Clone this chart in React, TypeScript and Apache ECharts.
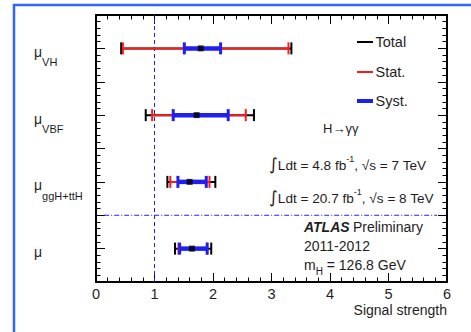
import React, { useEffect, useRef } from 'react';
import * as echarts from 'echarts';

// rows from bottom to top
const rowSubs = ['', 'ggH+ttH', 'VBF', 'VH'];
const rowPos = [0.5, 1.5, 2.5, 3.5];
const central = [1.64, 1.6, 1.72, 1.79];
const totalLow = [1.35, 1.22, 0.85, 0.43];
const totalHigh = [1.97, 2.04, 2.7, 3.34];
const statLow = [1.41, 1.27, 0.96, 0.46];
const statHigh = [1.9, 1.94, 2.56, 3.29];
const systLow = [1.43, 1.4, 1.32, 1.51];
const systHigh = [1.9, 1.885, 2.26, 2.13];
const xRange = [0, 6];
const yRange = [0, 4];
const smReference = 1;
const separatorY = 1;
const separatorExtent = [0.14, 5.83];
const legendNames = ['Total', 'Stat.', 'Syst.'];

const FONT = 'Liberation Sans, Arial, Helvetica, sans-serif';
const TXT = '#1e1e1e';
const RED = '#ff1a1a';
const BLUE = '#1f1ff0';
const BLACK = '#000000';

function barRenderer(color: string, lw: number, capW: number, capH: number) {
  return (params: any, api: any) => {
    const y = api.value(0);
    const lo = api.value(1);
    const hi = api.value(2);
    const a = api.coord([lo, y]);
    const b = api.coord([hi, y]);
    return {
      type: 'group',
      children: [
        { type: 'line', shape: { x1: a[0], y1: a[1], x2: b[0], y2: b[1] }, style: { stroke: color, lineWidth: lw } },
        { type: 'line', shape: { x1: a[0], y1: a[1] - capH / 2, x2: a[0], y2: a[1] + capH / 2 }, style: { stroke: color, lineWidth: capW } },
        { type: 'line', shape: { x1: b[0], y1: b[1] - capH / 2, x2: b[0], y2: b[1] + capH / 2 }, style: { stroke: color, lineWidth: capW } },
      ],
    };
  };
}

const lumiRich = {
  i: { fontFamily: 'DejaVu Sans, sans-serif', fontSize: 17, fill: TXT, lineHeight: 18, verticalAlign: 'bottom' },
  t: { fontFamily: FONT, fontSize: 13.6, fill: TXT, lineHeight: 16, verticalAlign: 'bottom' },
  u: { fontFamily: FONT, fontSize: 9, fill: TXT, lineHeight: 12, verticalAlign: 'top' },
};

export default function App() {
  const ref = useRef<HTMLDivElement>(null);
  useEffect(() => {
    if (!ref.current) return;
    const chart = echarts.init(ref.current, null, { renderer: 'svg' });
    const mk = (lo: number[], hi: number[]) => rowPos.map((y, i) => [y, lo[i], hi[i]]);
    const axisCommon = {
      type: 'value' as const,
      axisLine: { show: true, onZero: false, lineStyle: { color: BLACK, width: 2 } },
      axisTick: { show: true, inside: true, length: 9, lineStyle: { color: BLACK, width: 1 } },
      minorTick: { show: true, splitNumber: 5, length: 4.5, lineStyle: { color: BLACK, width: 1 } },
      splitLine: { show: false },
    };
    const option: any = {
      animation: false,
      backgroundColor: '#ffffff',
      grid: { left: 96, right: 24, top: 15, bottom: 50 },
      xAxis: [
        {
          ...axisCommon,
          min: xRange[0],
          max: xRange[1],
          interval: 1,
          position: 'bottom',
          name: 'Signal strength',
          nameLocation: 'end',
          nameGap: 0,
          nameTextStyle: { fontFamily: FONT, fontSize: 14, color: TXT, align: 'right', verticalAlign: 'top', padding: [21, 0, 0, 0] },
          axisLabel: { show: true, fontFamily: FONT, fontSize: 14.5, color: TXT, margin: 4 },
        },
        {
          ...axisCommon,
          min: xRange[0],
          max: xRange[1],
          interval: 1,
          position: 'top',
          axisLabel: { show: false },
        },
      ],
      yAxis: [
        {
          ...axisCommon,
          min: yRange[0],
          max: yRange[1],
          interval: 0.5,
          position: 'left',
          axisLabel: {
            show: true,
            align: 'left',
            margin: 62,
            padding: [9, 0, 0, 0],
            formatter: (v: number) => {
              const i = rowPos.indexOf(v);
              if (i < 0) return '';
              return `{m|μ}{s|${rowSubs[i] || ' '}}`;
            },
            rich: {
              m: { fontFamily: FONT, fontSize: 14, color: TXT, lineHeight: 16, verticalAlign: 'top' },
              s: { fontFamily: FONT, fontSize: 11, color: TXT, lineHeight: 12, verticalAlign: 'top', padding: [12, 0, 0, 0] },
            },
          },
        },
        {
          ...axisCommon,
          min: yRange[0],
          max: yRange[1],
          interval: 0.5,
          position: 'right',
          axisLabel: { show: false },
        },
      ],
      series: [
        {
          type: 'line',
          data: [[smReference, yRange[0]], [smReference, yRange[1]]],
          symbol: 'none',
          lineStyle: { color: BLUE, width: 1, type: [4, 3] },
          z: 1,
          silent: true,
        },
        {
          type: 'line',
          data: [[separatorExtent[0], separatorY], [separatorExtent[1], separatorY]],
          symbol: 'none',
          lineStyle: { color: BLUE, width: 1, type: [5, 2, 1, 2] },
          z: 1,
          silent: true,
        },
        {
          name: legendNames[0],
          type: 'custom',
          renderItem: barRenderer(BLACK, 2, 2, 12),
          encode: { x: [1, 2], y: 0 },
          data: mk(totalLow, totalHigh),
          z: 2,
        },
        {
          name: legendNames[1],
          type: 'custom',
          renderItem: barRenderer(RED, 2, 2, 12),
          encode: { x: [1, 2], y: 0 },
          data: mk(statLow, statHigh),
          z: 3,
        },
        {
          name: legendNames[2],
          type: 'custom',
          renderItem: barRenderer(BLUE, 4.5, 3, 12),
          encode: { x: [1, 2], y: 0 },
          data: mk(systLow, systHigh),
          z: 4,
        },
        {
          type: 'scatter',
          symbol: 'rect',
          symbolSize: 6,
          itemStyle: { color: BLACK },
          data: rowPos.map((y, i) => [central[i], y]),
          z: 5,
        },
      ],
      graphic: [
        { type: 'rect', shape: { x: 14, y: 5, width: 480, height: 360 }, style: { fill: 'none', stroke: '#2f66ff', lineWidth: 2.5 }, z: 100 },
        { type: 'line', shape: { x1: 357, y1: 42, x2: 373, y2: 42 }, style: { stroke: BLACK, lineWidth: 2 } },
        { type: 'text', x: 375.5, y: 42, style: { text: legendNames[0], font: `14.5px ${FONT}`, fill: TXT, verticalAlign: 'middle' } },
        { type: 'line', shape: { x1: 357, y1: 72, x2: 373, y2: 72 }, style: { stroke: RED, lineWidth: 2 } },
        { type: 'text', x: 375.5, y: 72, style: { text: legendNames[1], font: `14.5px ${FONT}`, fill: TXT, verticalAlign: 'middle' } },
        { type: 'line', shape: { x1: 357, y1: 101, x2: 373, y2: 101 }, style: { stroke: BLUE, lineWidth: 4 } },
        { type: 'text', x: 375.5, y: 101, style: { text: legendNames[2], font: `14.5px ${FONT}`, fill: TXT, verticalAlign: 'middle' } },
        { type: 'text', x: 323, y: 128, style: { text: 'H→γγ', font: `13px ${FONT}`, fill: TXT, verticalAlign: 'middle' } },
        {
          type: 'text', x: 269, y: 163,
          style: { text: '{i|∫}{t|Ldt = 4.8 fb}{u|-1}{t|, √s = 7 TeV}', verticalAlign: 'middle', rich: lumiRich },
        },
        {
          type: 'text', x: 269, y: 196,
          style: { text: '{i|∫}{t|Ldt = 20.7 fb}{u|-1}{t|, √s = 8 TeV}', verticalAlign: 'middle', rich: lumiRich },
        },
        {
          type: 'text', x: 304, y: 227,
          style: {
            text: '{b|ATLAS} {t|Preliminary}', verticalAlign: 'middle',
            rich: {
              b: { fontFamily: FONT, fontSize: 14, fill: TXT, fontWeight: 'bold', fontStyle: 'italic' },
              t: { fontFamily: FONT, fontSize: 14, fill: TXT },
            },
          },
        },
        { type: 'text', x: 304, y: 246, style: { text: '2011-2012', font: `14px ${FONT}`, fill: TXT, verticalAlign: 'middle' } },
        {
          type: 'text', x: 304, y: 266,
          style: {
            text: '{t|m}{s|H}{t| = 126.8 GeV}', verticalAlign: 'middle',
            rich: {
              t: { fontFamily: FONT, fontSize: 14, fill: TXT, lineHeight: 16, verticalAlign: 'top' },
              s: { fontFamily: FONT, fontSize: 10, fill: TXT, lineHeight: 12, verticalAlign: 'top', padding: [8, 0, 0, 0] },
            },
          },
        },
      ],
    };
    chart.setOption(option);
    return () => chart.dispose();
  }, []);
  return <div ref={ref} style={{ position: 'absolute', left: 0, top: 0, width: 471, height: 332 }} />;
}
